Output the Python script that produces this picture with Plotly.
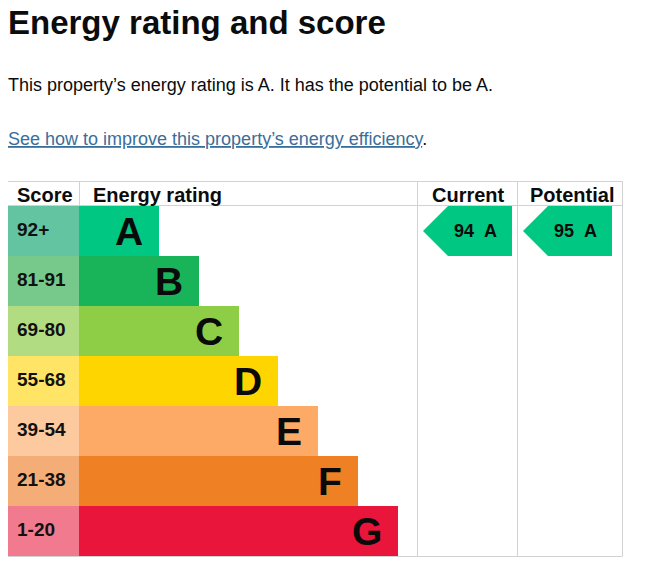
import plotly.graph_objects as go

# ---------------- data ----------------
bands = ["A", "B", "C", "D", "E", "F", "G"]
score_ranges = ["92+", "81-91", "69-80", "55-68", "39-54", "21-38", "1-20"]
bar_lengths = [2, 3, 4, 5, 6, 7, 8]
band_colors = ["#00c781", "#19b459", "#8dce46", "#ffd500", "#fcaa65", "#ef8023", "#e9153b"]
score_colors = ["#62c4a0", "#76c98a", "#b2dc82", "#ffe466", "#fdcaa0", "#f5ad78", "#f27a8f"]
current_score, current_band = 94, "A"
potential_score, potential_band = 95, "A"
headers = ["Score", "Energy rating", "Current", "Potential"]

title = "Energy rating and score"
summary = "This property\u2019s energy rating is A. It has the potential to be A."
link_text = "See how to improve this property\u2019s energy efficiency"

# ---------------- layout helpers ----------------
W, H = 664, 586
def px(x):
    return x / W
def py(y):
    return 1 - y / H

TABLE_L, TABLE_R, TABLE_T, HEAD_B, TABLE_B = 8, 622, 181, 206, 556
SCORE_R, BAR_R = 79, 398
CUR_L, POT_L = 417, 517
GRID = "#d2d2d2"
FONT = "Liberation Sans, Arial, sans-serif"
INK = "#0b0c0c"

rows = list(range(len(bands)))
fig = go.Figure()

# score column
fig.add_trace(go.Bar(x=[1] * len(bands), y=rows, orientation="h", width=1,
                     marker=dict(color=score_colors, line=dict(width=0)),
                     xaxis="x", yaxis="y", hoverinfo="skip", showlegend=False))
# rating bars
fig.add_trace(go.Bar(x=bar_lengths, y=rows, orientation="h", width=1,
                     marker=dict(color=band_colors, line=dict(width=0)),
                     xaxis="x2", yaxis="y", hovertext=bands, hoverinfo="text",
                     showlegend=False))

# arrows for current / potential
def arrow(band, axis, tip, notch, right):
    i = bands.index(band)
    xs = [tip, notch, right, right, notch, tip]
    ys = [i, i - 0.5, i - 0.5, i + 0.5, i + 0.5, i]
    return go.Scatter(x=xs, y=ys, fill="toself", mode="lines",
                      fillcolor=band_colors[i], line=dict(width=0, color=band_colors[i]),
                      xaxis=axis, yaxis="y", hoverinfo="skip", showlegend=False)

fig.add_trace(arrow(current_band, "x3", 6, 31, 95))
fig.add_trace(arrow(potential_band, "x4", 6, 31, 95))

annotations = []
# title & text
annotations.append(dict(text="<b>%s</b>" % title, x=px(6), y=py(22), xref="paper", yref="paper",
                        xanchor="left", yanchor="middle", showarrow=False,
                        font=dict(family=FONT, size=33, color=INK)))
annotations.append(dict(text=summary, x=px(6), y=py(85), xref="paper", yref="paper",
                        xanchor="left", yanchor="middle", showarrow=False,
                        font=dict(family=FONT, size=18, color=INK)))
annotations.append(dict(text="<span style='color:#3a6e9a'><u>%s</u></span>." % link_text,
                        x=px(6), y=py(139.5), xref="paper", yref="paper",
                        xanchor="left", yanchor="middle", showarrow=False,
                        font=dict(family=FONT, size=18, color=INK)))
# headers
head_y = py(195)
annotations.append(dict(text="<b>%s</b>" % headers[0], x=px(15), y=head_y, xref="paper", yref="paper",
                        xanchor="left", yanchor="middle", showarrow=False,
                        font=dict(family=FONT, size=20, color=INK)))
annotations.append(dict(text="<b>%s</b>" % headers[1], x=px(91), y=head_y, xref="paper", yref="paper",
                        xanchor="left", yanchor="middle", showarrow=False,
                        font=dict(family=FONT, size=20, color=INK)))
annotations.append(dict(text="<b>%s</b>" % headers[2], x=px((CUR_L + POT_L) / 2 + 1), y=head_y,
                        xref="paper", yref="paper", xanchor="center", yanchor="middle", showarrow=False,
                        font=dict(family=FONT, size=20, color=INK)))
annotations.append(dict(text="<b>%s</b>" % headers[3], x=px((POT_L + TABLE_R) / 2 + 2), y=head_y,
                        xref="paper", yref="paper", xanchor="center", yanchor="middle", showarrow=False,
                        font=dict(family=FONT, size=20, color=INK)))

# score labels & band letters
for i, (s, b, L) in enumerate(zip(score_ranges, bands, bar_lengths)):
    annotations.append(dict(text="<b>%s</b>" % s, x=0, y=i, xref="x", yref="y",
                            xanchor="left", yanchor="middle", xshift=7, yshift=2, showarrow=False,
                            font=dict(family=FONT, size=19, color="#111111")))
    annotations.append(dict(text="<b>%s</b>" % b, x=L, y=i, xref="x2", yref="y",
                            xanchor="right", yanchor="middle", xshift=-14, showarrow=False,
                            font=dict(family=FONT, size=39, color="#0a0a0a")))

# arrow labels
for axis, score, band in (("x3", current_score, current_band), ("x4", potential_score, potential_band)):
    annotations.append(dict(text="<b>%d\u00a0\u00a0%s</b>" % (score, band), x=58, y=bands.index(band),
                            xref=axis, yref="y", xanchor="center", yanchor="middle", showarrow=False,
                            font=dict(family=FONT, size=18, color="#0a0a0a")))

# grid lines
def hline(y, x0, x1):
    return dict(type="line", xref="paper", yref="paper", x0=px(x0), x1=px(x1), y0=py(y), y1=py(y),
                line=dict(color=GRID, width=1), layer="above")
def vline(x, y0, y1):
    return dict(type="line", xref="paper", yref="paper", x0=px(x), x1=px(x), y0=py(y0), y1=py(y1),
                line=dict(color=GRID, width=1), layer="below")

shapes = [
    hline(TABLE_T + 0.5, TABLE_L, TABLE_R + 0.5),
    hline(HEAD_B - 0.5, TABLE_L, TABLE_R + 0.5),
    hline(TABLE_B + 0.5, TABLE_L, TABLE_R + 0.5),
    vline(SCORE_R + 0.5, TABLE_T, HEAD_B),
    vline(CUR_L + 0.5, TABLE_T, TABLE_B),
    vline(POT_L + 0.5, TABLE_T, TABLE_B),
    vline(TABLE_R + 0.5, TABLE_T, TABLE_B),
]

ydom = [py(TABLE_B), py(HEAD_B)]
hidden = dict(visible=False, fixedrange=True)
fig.update_layout(
    width=W, height=H, margin=dict(l=0, r=0, t=0, b=0),
    paper_bgcolor="white", plot_bgcolor="rgba(0,0,0,0)",
    bargap=0, barmode="overlay",
    xaxis=dict(domain=[px(TABLE_L), px(SCORE_R)], range=[0, 1], anchor="y", **hidden),
    xaxis2=dict(domain=[px(SCORE_R), px(BAR_R)], range=[0, 8], anchor="y", **hidden),
    xaxis3=dict(domain=[px(CUR_L), px(POT_L)], range=[0, 100], anchor="y", **hidden),
    xaxis4=dict(domain=[px(POT_L), px(TABLE_R)], range=[0, 105], anchor="y", **hidden),
    yaxis=dict(domain=ydom, range=[len(bands) - 0.5, -0.5], **hidden),
    annotations=annotations, shapes=shapes,
)

fig.write_html("out.html")
